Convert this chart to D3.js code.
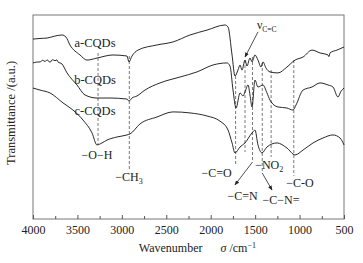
<!DOCTYPE html>
<html>
<head>
<meta charset="utf-8">
<script src="https://cdn.jsdelivr.net/npm/d3@7"></script>
<style>
  body { margin: 0; background: #fff; }
  text { font-family: "Liberation Serif", "Times New Roman", serif; fill: #222; }
</style>
</head>
<body>
<div id="chart"></div>
<script>
// FTIR spectra, [wavenumber, transmittance a.u.]
const curveA = [[4000,88.2],[3921,88.5],[3842,88.7],[3760,89.6],[3674,90.2],[3629,89.2],[3584,85.3],[3471,80.4],
  [3392,77.9],[3280,78.9],[3100,80.4],[2942,79.9],[2920,77.0],[2886,79.9],[2818,82.8],[2605,85.3],[2424,86.8],
  [2233,90.2],[2042,92.6],[1839,95.1],[1805,94.1],[1760,80.4],[1727,70.1],[1693,73.0],[1670,75.5],[1648,73.0],
  [1614,77.9],[1592,75.0],[1558,78.9],[1535,77.0],[1502,80.4],[1468,77.9],[1434,74.5],[1412,77.0],[1378,74.0],
  [1333,72.1],[1243,71.6],[1142,74.5],[1051,77.9],[961,79.4],[860,82.8],[770,81.4],[680,80.4],[670,79.6],
  [658,81.4],[579,82.8],[500,84.3]];
const curveB = [[4000,76.5],[3960,76.9],[3921,77.0],[3890,77.8],[3865,77.2],[3840,78.0],[3809,76.8],[3780,78.1],
  [3752,77.6],[3730,78.0],[3719,77.0],[3674,76.0],[3617,71.6],[3505,65.7],[3415,60.8],[3280,59.3],[3133,59.3],
  [2942,58.8],[2920,57.8],[2886,59.3],[2830,60.3],[2740,63.2],[2571,66.7],[2346,69.6],[2154,72.1],[1974,75.5],
  [1817,76.5],[1783,75.0],[1749,63.2],[1715,54.4],[1670,61.8],[1637,60.3],[1614,62.3],[1580,65.7],[1558,60.8],
  [1535,54.9],[1502,68.1],[1468,64.7],[1412,65.7],[1367,61.8],[1333,58.3],[1243,54.9],[1142,54.4],[1074,53.4],
  [1040,55.9],[961,63.2],[860,64.7],[770,66.7],[680,65.7],[624,64.7],[568,59.8],[535,62.5],[500,64.2]];
const curveC = [[4000,64.2],[3921,63.2],[3809,61.8],[3662,56.9],[3550,53.4],[3437,48.5],[3336,42.2],[3280,36.3],
  [3223,37.3],[3167,38.7],[3055,40.2],[2942,41.2],[2908,41.7],[2796,46.6],[2605,50.0],[2424,52.5],[2233,52.0],
  [2042,50.5],[1896,48.0],[1805,43.6],[1760,37.3],[1727,32.4],[1670,35.3],[1614,37.3],[1535,42.2],[1502,43.6],
  [1468,36.3],[1423,32.4],[1367,35.3],[1254,37.3],[1142,34.8],[1051,31.4],[961,33.8],[848,37.3],[737,39.7],
  [624,41.2],[545,39.7],[500,36.3]];

const seriesNames = ["a-CQDs", "b-CQDs", "c-CQDs"];
const seriesLabelY = [84.3, 66.2, 51.0];
const xTicks = [4000, 3500, 3000, 2500, 2000, 1500, 1000, 500];
const xMinorTicks = [3750, 3250, 2750, 2250, 1750, 1250, 750];

// band markers: wavenumber, top, bottom
const bands = [[3268,81.4,36.3],[2916,79.9,24.0],[1720,70.1,26.5],[1614,77.9,32.8],
  [1530,79.4,27.9],[1420,76.5,22.5],[1320,73.0,30.4],[1065,77.9,21.1]];
// band labels: text, wavenumber, value, anchor
const bandLabels = [["−O−H",3280,29.4,"middle"],["−C=O",1935,20.6,"middle"],["−C=N",1640,9.3,"middle"],
  ["−C−N=",1209,7.4,"middle"],["−C-O",1150,15.7,"start"]];
// arrows: from [w,t] to [w,t]
const arrows = [[[1468,91.7],[1614,79.4]],[[1530,27.9],[1727,16.7]],[[1420,22.5],[1310,14.2]]];

const width = 363, height = 263;
const margin = { top: 15, right: 19, bottom: 44, left: 33 };
const innerWidth = width - margin.left - margin.right;
const innerHeight = height - margin.top - margin.bottom;

const svg = d3.select("#chart").append("svg")
  .attr("width", width)
  .attr("height", height);
const g = svg.append("g")
  .attr("transform", `translate(${margin.left},${margin.top})`);

const xScale = d3.scaleLinear().domain([4000, 500]).range([0, innerWidth]);
const yScale = d3.scaleLinear().domain([0, 100]).range([innerHeight, 0]);

// frame
g.append("rect")
  .attr("width", innerWidth)
  .attr("height", innerHeight)
  .attr("fill", "none")
  .attr("stroke", "#777")
  .attr("stroke-width", 1);

// axes, ticks inward
const xAxis = g.append("g")
  .attr("transform", `translate(0,${innerHeight})`)
  .call(d3.axisBottom(xScale).tickValues(xTicks).tickSize(-4).tickPadding(6).tickFormat(d3.format("d")));
xAxis.select(".domain").remove();
xAxis.selectAll("line").attr("stroke", "#555");
xAxis.selectAll("text").style("font-size", "12px").attr("fill", "#222")
  .style("font-family", "'Liberation Serif', serif");

const minor = g.append("g")
  .attr("transform", `translate(0,${innerHeight})`)
  .call(d3.axisBottom(xScale).tickValues(xMinorTicks).tickSize(-3).tickFormat(""));
minor.select(".domain").remove();
minor.selectAll("line").attr("stroke", "#555");

// band dashed lines
g.selectAll(".band")
  .data(bands)
  .enter().append("line")
  .attr("x1", d => xScale(d[0]))
  .attr("x2", d => xScale(d[0]))
  .attr("y1", d => yScale(d[1]))
  .attr("y2", d => yScale(d[2]))
  .attr("stroke", "#555")
  .attr("stroke-width", 0.8)
  .attr("stroke-dasharray", "3,2");

// spectra
const line = d3.line()
  .x(d => xScale(d[0]))
  .y(d => yScale(d[1]))
  .curve(d3.curveMonotoneX);

[curveA, curveB, curveC].forEach(c => {
  g.append("path")
    .datum(c)
    .attr("d", line)
    .attr("fill", "none")
    .attr("stroke", "#111")
    .attr("stroke-width", 0.9);
});

// series labels
seriesNames.forEach((name, i) => {
  g.append("text")
    .attr("x", xScale(3302))
    .attr("y", yScale(seriesLabelY[i]))
    .attr("text-anchor", "middle")
    .style("font-size", "12.5px")
    .text(name);
});

// arrows
svg.append("defs").append("marker")
  .attr("id", "arr")
  .attr("viewBox", "0 0 10 10")
  .attr("refX", 9).attr("refY", 5)
  .attr("markerWidth", 6).attr("markerHeight", 6)
  .attr("orient", "auto")
  .append("path")
  .attr("d", "M0,1 L10,5 L0,9 Z")
  .attr("fill", "#222");

arrows.forEach(a => {
  g.append("line")
    .attr("x1", xScale(a[0][0])).attr("y1", yScale(a[0][1]))
    .attr("x2", xScale(a[1][0])).attr("y2", yScale(a[1][1]))
    .attr("stroke", "#222")
    .attr("stroke-width", 0.8)
    .attr("marker-end", "url(#arr)");
});

// band labels
bandLabels.forEach(b => {
  g.append("text")
    .attr("x", xScale(b[1]))
    .attr("y", yScale(b[2]))
    .attr("text-anchor", b[3])
    .style("font-size", "12px")
    .text(b[0]);
});

const ch3 = g.append("text")
  .attr("x", xScale(2920))
  .attr("y", yScale(18.6))
  .attr("text-anchor", "middle")
  .style("font-size", "12px");
ch3.append("tspan").text("−CH");
ch3.append("tspan").attr("dy", 3).style("font-size", "8px").text("3");

const no2 = g.append("text")
  .attr("x", xScale(1500))
  .attr("y", yScale(24.5))
  .style("font-size", "12px");
no2.append("tspan").text("−NO");
no2.append("tspan").attr("dy", 3).style("font-size", "8px").text("2");

const nu = g.append("text")
  .attr("x", xScale(1480))
  .attr("y", yScale(93.1))
  .style("font-size", "12px");
nu.append("tspan").text("ν");
nu.append("tspan").attr("dy", 3).style("font-size", "7.5px").text("C=C");

// axis titles
svg.append("text")
  .attr("transform", `translate(15,${margin.top + yScale(52)}) rotate(-90)`)
  .attr("text-anchor", "middle")
  .style("font-size", "12.5px")
  .text("Transmittance /(a.u.)");

const xt = svg.append("text")
  .attr("x", margin.left + xScale(2150))
  .attr("y", 252)
  .attr("text-anchor", "middle")
  .style("font-size", "12px");
xt.append("tspan").text("Wavenumber");
xt.append("tspan").attr("dx", 18).style("font-style", "italic").text("σ");
xt.append("tspan").text(" /cm");
xt.append("tspan").attr("dy", -4).style("font-size", "8px").text("−1");
</script>
</body>
</html>
